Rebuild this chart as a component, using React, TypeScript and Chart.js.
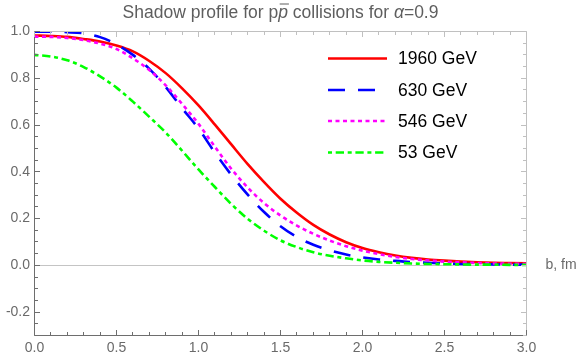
import React, { useEffect, useRef } from 'react';
import { Chart, registerables } from 'chart.js';

Chart.register(...registerables);

const bValues = [0.0, 0.1, 0.2, 0.3, 0.4, 0.5, 0.6, 0.7, 0.8, 0.9, 1.0, 1.1, 1.2, 1.3, 1.4, 1.5, 1.6, 1.7, 1.8, 1.9, 2.0, 2.1, 2.2, 2.3, 2.4, 2.5, 2.6, 2.7, 2.8, 2.9, 3.0];

const shadow1960 = [0.983, 0.981, 0.977, 0.968, 0.957, 0.940, 0.915, 0.874, 0.822, 0.757, 0.684, 0.602, 0.517, 0.433, 0.356, 0.285, 0.225, 0.173, 0.132, 0.099, 0.074, 0.056, 0.042, 0.032, 0.025, 0.020, 0.016, 0.013, 0.011, 0.010, 0.009];
const shadow630 = [0.999, 0.999, 0.997, 0.992, 0.976, 0.945, 0.900, 0.840, 0.763, 0.672, 0.585, 0.482, 0.387, 0.302, 0.228, 0.167, 0.121, 0.088, 0.064, 0.046, 0.034, 0.025, 0.019, 0.014, 0.011, 0.008, 0.006, 0.005, 0.004, 0.003, 0.003];
const shadow546 = [0.978, 0.977, 0.972, 0.963, 0.948, 0.925, 0.885, 0.835, 0.770, 0.690, 0.605, 0.507, 0.413, 0.333, 0.266, 0.213, 0.170, 0.135, 0.106, 0.082, 0.063, 0.048, 0.036, 0.027, 0.021, 0.016, 0.013, 0.010, 0.008, 0.007, 0.006];
const shadow53 = [0.900, 0.893, 0.877, 0.848, 0.808, 0.760, 0.700, 0.635, 0.568, 0.490, 0.410, 0.335, 0.262, 0.199, 0.148, 0.107, 0.078, 0.056, 0.041, 0.030, 0.021, 0.015, 0.011, 0.008, 0.006, 0.005, 0.004, 0.003, 0.003, 0.002, 0.002];

const seriesLabels = ['1960 GeV', '630 GeV', '546 GeV', '53 GeV'];
const seriesColors = ['#ff0000', '#0000ff', '#ff00ff', '#00ff00'];
const seriesDashes: number[][] = [[], [17, 13], [4, 3.5], [4, 3.7, 8.3, 3.7]];

const xTickValues = [0, 0.5, 1.0, 1.5, 2.0, 2.5, 3.0];
const xTickLabels = ['0.0', '0.5', '1.0', '1.5', '2.0', '2.5', '3.0'];
const yTickValues = [-0.2, 0, 0.2, 0.4, 0.6, 0.8, 1.0];
const yTickLabels = ['-0.2', '0.0', '0.2', '0.4', '0.6', '0.8', '1.0'];
const xAxisLabel = 'b, fm';

const FONT = '"Liberation Sans", Arial, sans-serif';

const decorPlugin = {
  id: 'decor',
  beforeDatasetsDraw(chart: any) {
    const { ctx, chartArea, scales } = chart;
    const y0 = Math.round(scales.y.getPixelForValue(0) - 0.5) + 0.5;
    ctx.save();
    ctx.strokeStyle = '#c4c4c4';
    ctx.lineWidth = 1;
    ctx.beginPath();
    ctx.moveTo(chartArea.left, y0);
    ctx.lineTo(chartArea.right, y0);
    ctx.stroke();
    ctx.restore();
  },
  afterDatasetsDraw(chart: any) {
    const { ctx, chartArea, scales } = chart;
    const { left, right, top, bottom } = chartArea;
    const xs = scales.x;
    const ys = scales.y;
    const dark = '#6e6e6e';
    const light = '#c0c0c0';
    const snap = (v: number) => Math.round(v - 0.5) + 0.5;
    ctx.save();
    ctx.lineWidth = 1;
    // frame
    ctx.strokeStyle = light;
    ctx.beginPath();
    ctx.moveTo(left, top);
    ctx.lineTo(right, top);
    ctx.lineTo(right, bottom);
    ctx.stroke();
    ctx.strokeStyle = dark;
    ctx.beginPath();
    ctx.moveTo(left, top);
    ctx.lineTo(left, bottom);
    ctx.lineTo(right, bottom);
    ctx.stroke();

    // x ticks (major at 0.5, minor at 0.1)
    for (let k = 0; k <= 30; k++) {
      const v = k / 10;
      const major = k % 5 === 0;
      const len = major ? 5.5 : 3.5;
      const px = snap(xs.getPixelForValue(v));
      ctx.strokeStyle = dark;
      ctx.beginPath();
      ctx.moveTo(px, bottom);
      ctx.lineTo(px, bottom - len);
      ctx.stroke();
      ctx.strokeStyle = light;
      ctx.beginPath();
      ctx.moveTo(px, top);
      ctx.lineTo(px, top + len);
      ctx.stroke();
    }
    // y ticks (major at 0.2, minor at 0.05)
    for (let k = -6; k <= 20; k++) {
      const v = k / 20;
      const major = k % 4 === 0;
      const len = major ? 5.5 : 3.5;
      const py = snap(ys.getPixelForValue(v));
      ctx.strokeStyle = dark;
      ctx.beginPath();
      ctx.moveTo(left, py);
      ctx.lineTo(left + len, py);
      ctx.stroke();
      ctx.strokeStyle = light;
      ctx.beginPath();
      ctx.moveTo(right, py);
      ctx.lineTo(right - len, py);
      ctx.stroke();
    }

    // tick labels
    ctx.fillStyle = '#6a6a6a';
    ctx.font = `14px ${FONT}`;
    ctx.textAlign = 'center';
    ctx.textBaseline = 'middle';
    xTickValues.forEach((v, i) => {
      ctx.fillText(xTickLabels[i], xs.getPixelForValue(v), bottom + 13);
    });
    ctx.textAlign = 'right';
    yTickValues.forEach((v, i) => {
      ctx.fillText(yTickLabels[i], left - 4.5, ys.getPixelForValue(v));
    });
    // axis label
    ctx.textAlign = 'left';
    ctx.fillText(xAxisLabel, right + 19, ys.getPixelForValue(0));

    // title
    const parts = [
      { t: 'Shadow profile for p', it: false, over: false },
      { t: 'p', it: true, over: true },
      { t: ' collisions for ', it: false, over: false },
      { t: '\u03b1', it: true, over: false },
      { t: '=0.9', it: false, over: false },
    ];
    const fs = 17.5;
    const fontFor = (it: boolean) => `${it ? 'italic ' : ''}${fs}px ${FONT}`;
    let total = 0;
    parts.forEach((p) => {
      ctx.font = fontFor(p.it);
      total += ctx.measureText(p.t).width;
    });
    let tx = (left + right) / 2 - total / 2;
    const ty = 17.5;
    ctx.fillStyle = '#5e5e5e';
    ctx.textAlign = 'left';
    ctx.textBaseline = 'alphabetic';
    parts.forEach((p) => {
      ctx.font = fontFor(p.it);
      const w = ctx.measureText(p.t).width;
      ctx.fillText(p.t, tx, ty);
      if (p.over) {
        ctx.strokeStyle = '#5e5e5e';
        ctx.lineWidth = 1;
        ctx.beginPath();
        ctx.moveTo(tx + 1.5, ty - 13.5);
        ctx.lineTo(tx + w + 1, ty - 13.5);
        ctx.stroke();
      }
      tx += w;
    });

    // legend
    const rowY = [58.5, 90, 121, 152.5];
    ctx.font = `17.5px ${FONT}`;
    ctx.textBaseline = 'middle';
    seriesLabels.forEach((lab, i) => {
      const y = rowY[i];
      ctx.strokeStyle = seriesColors[i];
      ctx.lineWidth = 2.6;
      ctx.setLineDash(seriesDashes[i]);
      ctx.beginPath();
      ctx.moveTo(328, y);
      ctx.lineTo(387, y);
      ctx.stroke();
      ctx.setLineDash([]);
      ctx.fillStyle = '#000000';
      ctx.fillText(lab, 398, y + 1);
    });
    ctx.restore();
  },
};

export default function App() {
  const canvasRef = useRef<HTMLCanvasElement | null>(null);

  useEffect(() => {
    document.body.style.margin = '0';
    const canvas = canvasRef.current;
    if (!canvas) return;
    const allSeries = [shadow1960, shadow630, shadow546, shadow53];
    const chart = new Chart(canvas, {
      type: 'scatter',
      data: {
        datasets: allSeries.map((s, i) => ({
          label: seriesLabels[i],
          data: bValues.map((b, j) => ({ x: b, y: s[j] })),
          showLine: true,
          borderColor: seriesColors[i],
          backgroundColor: seriesColors[i],
          borderWidth: 2.6,
          borderDash: seriesDashes[i],
          pointRadius: 0,
          cubicInterpolationMode: 'monotone',
          order: 4 - i,
        })),
      },
      options: {
        responsive: false,
        animation: false,
        devicePixelRatio: 1,
        layout: { padding: { left: 34.5, top: 31.5, right: 54.5, bottom: 25.5 } },
        plugins: { legend: { display: false }, tooltip: { enabled: false }, title: { display: false } },
        scales: {
          x: { type: 'linear', min: 0, max: 3, display: false },
          y: { type: 'linear', min: -0.3, max: 1.0, display: false },
        },
      } as any,
      plugins: [decorPlugin],
    });
    return () => chart.destroy();
  }, []);

  return (
    <div style={{ width: 581, height: 361, background: '#ffffff' }}>
      <canvas ref={canvasRef} width={581} height={361} style={{ display: 'block' }} />
    </div>
  );
}
